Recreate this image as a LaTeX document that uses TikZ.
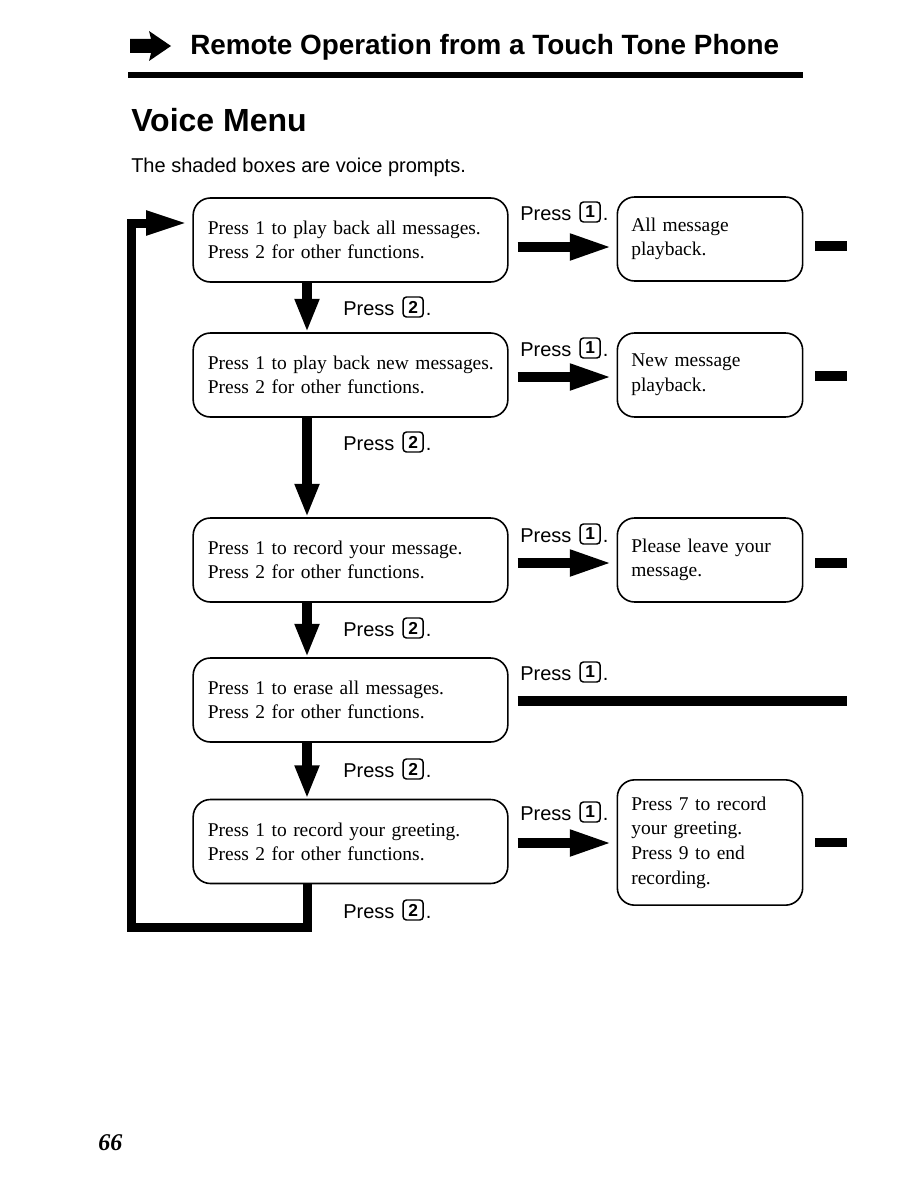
\documentclass[tikz,border=0pt]{standalone}
\usepackage{fontspec}
\setmainfont{Liberation Serif}
\setsansfont{Liberation Sans}
\usetikzlibrary{arrows.meta,calc}
\newcommand\keycap[1]{\tikz[baseline=-6pt]\node[draw,line width=1.1pt,rounded corners=2.5pt,inner sep=0pt,minimum width=15pt,minimum height=15pt,anchor=center,font=\sffamily\bfseries\fontsize{13}{13}\selectfont]{#1};}
\begin{document}
\begin{tikzpicture}[x=0.75pt,y=-0.75pt,
  prompt/.style={draw,line width=1.2pt,rounded corners=13pt,minimum height=63pt,align=left},
  leftbox/.style={prompt,inner xsep=11pt,text width=214pt,font=\fontsize{14.6}{18}\selectfont},
  rightbox/.style={prompt,inner xsep=10.5pt,text width=118pt,font=\fontsize{14.6}{18.5}\selectfont},
  presslbl/.style={anchor=base west,inner sep=0pt,font=\sffamily\fontsize{15}{17}\selectfont},
  fatarrow/.style={line width=7.5pt,-{Triangle[length=32pt,width=18pt]}},
  downarrow/.style={line width=7.5pt,-{Triangle[length=25pt,width=17pt]}},
  loopline/.style={line width=6.75pt,line join=miter,-{Triangle[length=31pt,width=17pt]}},
  stub/.style={line width=7pt},
]
\useasboundingbox (0,0) rectangle (918,1188);
% header
\fill (130,39) -- (151,39) -- (149,31) -- (171,46) -- (149,61) -- (151,53) -- (130,53) -- cycle;
\node[anchor=base west,inner sep=0pt,font=\sffamily\bfseries\fontsize{20.9}{24}\selectfont] (title) at (190,55) {Remote Operation from a Touch Tone Phone};
\fill (128,72) rectangle (803,78);
\node[anchor=base west,inner sep=0pt,font=\sffamily\bfseries\fontsize{24}{28}\selectfont] (vm) at (131,131) {Voice Menu};
\node[anchor=base west,inner sep=0pt,font=\sffamily\fontsize{15}{18}\selectfont] (sub) at (131,172) {The shaded boxes are voice prompts.};

% left prompts
\node[leftbox] (b1) at (350.5,240) {\mbox{Press 1 to play back all messages.}\\\mbox{Press 2 for other functions.}};
\node[leftbox] (b2) at (350.5,375) {\mbox{Press 1 to play back new messages.}\\\mbox{Press 2 for other functions.}};
\node[leftbox] (b3) at (350.5,560) {\mbox{Press 1 to record your message.}\\\mbox{Press 2 for other functions.}};
\node[leftbox] (b4) at (350.5,700) {\mbox{Press 1 to erase all messages.}\\\mbox{Press 2 for other functions.}};
\node[leftbox] (b5) at (350.5,841.5) {\mbox{Press 1 to record your greeting.}\\\mbox{Press 2 for other functions.}};

% right boxes
\node[rightbox] (r1) at (710,239) {All message\\playback.};
\node[rightbox] (r2) at (710,375) {New message\\playback.};
\node[rightbox] (r3) at (710,560) {Please leave your\\message.};
\node[rightbox,minimum height=94pt] (r5) at (710,842.5) {Press 7 to record\\your greeting.\\Press 9 to end\\recording.};

% coordinates
\coordinate (col) at (307,0);
\coordinate (barend) at (847,0);
\coordinate (lc) at (131,927);
\coordinate (s1) at ($(b1.east)+(9,7)$);
\coordinate (s2) at ($(b2.east)+(9,2)$);
\coordinate (s3) at ($(b3.east)+(9,3)$);
\coordinate (s4) at ($(b4.east)+(9,1)$);
\coordinate (s5) at ($(b5.east)+(9,1.5)$);
\coordinate (tipc) at ($(b1.west)+(-5,-17)$);

% right arrows
\draw[fatarrow,shorten >=3pt] (s1) -- (s1 -| r1.west);
\draw[fatarrow,shorten >=3pt] (s2) -- (s2 -| r2.west);
\draw[fatarrow,shorten >=3pt] (s3) -- (s3 -| r3.west);
\draw[fatarrow,shorten >=3pt] (s5) -- (s5 -| r5.west);
\draw[stub] (s4) -- (s4 -| barend);

% stubs to the right
\draw[stub] ($(r1.east)+(12,7)$) -- ++(32,0);
\draw[stub] ($(r2.east)+(12,1)$) -- ++(32,0);
\draw[stub] ($(r3.east)+(12,3)$) -- ++(32,0);
\draw[stub] ($(r5.east)+(12,0)$) -- ++(32,0);

% down arrows
\draw[downarrow] (b1.south -| col) -- (b2.north -| col);
\draw[downarrow] (b2.south -| col) -- (b3.north -| col);
\draw[downarrow] (b3.south -| col) -- (b4.north -| col);
\draw[downarrow] (b4.south -| col) -- (b5.north -| col);

% loop back
\draw[loopline] (b5.south -| col) |- (lc) |- (tipc);

% labels
\node[presslbl] (p11) at (520,220) {Press\hspace{6pt}\keycap{1}\hspace{1.5pt}.};
\node[presslbl] (p12) at (520,356) {Press\hspace{6pt}\keycap{1}\hspace{1.5pt}.};
\node[presslbl] (p13) at (520,542) {Press\hspace{6pt}\keycap{1}\hspace{1.5pt}.};
\node[presslbl] (p14) at (520,680) {Press\hspace{6pt}\keycap{1}\hspace{1.5pt}.};
\node[presslbl] (p15) at (520,820) {Press\hspace{6pt}\keycap{1}\hspace{1.5pt}.};
\node[presslbl] (p21) at (343,315) {Press\hspace{6pt}\keycap{2}\hspace{1.5pt}.};
\node[presslbl] (p22) at (343,450) {Press\hspace{6pt}\keycap{2}\hspace{1.5pt}.};
\node[presslbl] (p23) at (343,636) {Press\hspace{6pt}\keycap{2}\hspace{1.5pt}.};
\node[presslbl] (p24) at (343,777) {Press\hspace{6pt}\keycap{2}\hspace{1.5pt}.};
\node[presslbl] (p25) at (343,918) {Press\hspace{6pt}\keycap{2}\hspace{1.5pt}.};

% page number
\node[anchor=base west,inner sep=0pt,font=\bfseries\itshape\fontsize{18}{18}\selectfont] (pg) at (98,1150) {66};
\end{tikzpicture}
\end{document}
